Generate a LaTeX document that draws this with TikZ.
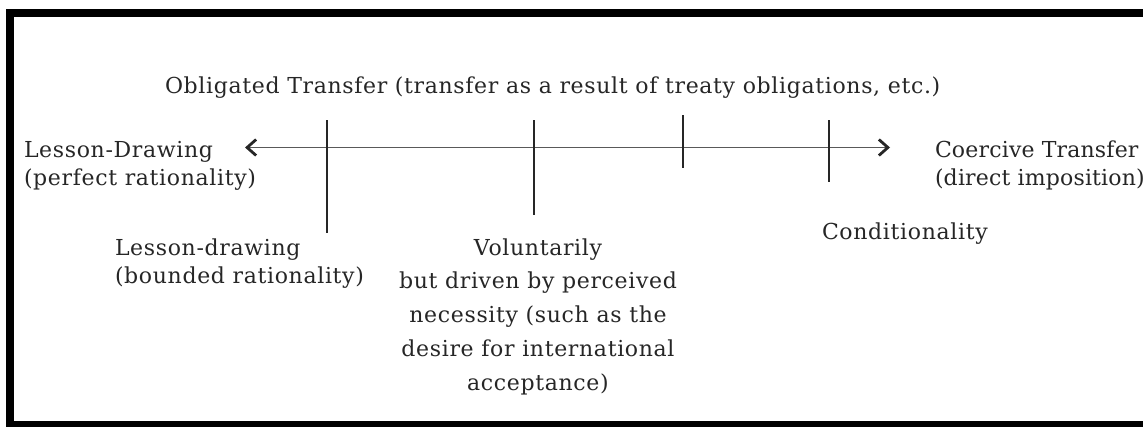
\documentclass[tikz,border=0pt]{standalone}
\usepackage{fontspec}
\setmainfont[LetterSpace=3]{DejaVu Serif}
\newfontfamily\tightserif[LetterSpace=0.8]{DejaVu Serif}
\usetikzlibrary{arrows.meta}
\begin{document}
\begin{tikzpicture}[x=1pt,y=-1pt,
  label/.style={inner sep=0pt, outer sep=0pt, text=black!85,
    font=\fontsize{22}{28}\selectfont},
  axis/.style={draw=black!65, line width=1.8pt,
    {Straight Barb[length=9pt,width=16pt,line width=2.8pt,color=black!85]}-{Straight Barb[length=9pt,width=16pt,line width=2.8pt,color=black!85]}},
  tick/.style={draw=black!85, line width=2pt}]
  \useasboundingbox (0,0) rectangle (1143,426);
  \clip (0,0) rectangle (1143,426);
  % frame
  \draw[line width=8pt] (10,13) rectangle (1160,425);

  % axis end points and tick marks
  \coordinate (axL) at (245,147.5);
  \coordinate (axR) at (890,147.5);
  \draw[axis] (axL) -- (axR);
  \coordinate (t1a) at (327,120); \coordinate (t1b) at (327,233);
  \coordinate (t2a) at (534,120); \coordinate (t2b) at (534,215);
  \coordinate (t3a) at (683,115); \coordinate (t3b) at (683,168);
  \coordinate (t4a) at (829,120); \coordinate (t4b) at (829,182);
  \draw[tick] (t1a) -- (t1b);
  \draw[tick] (t2a) -- (t2b);
  \draw[tick] (t3a) -- (t3b);
  \draw[tick] (t4a) -- (t4b);

  % labels (base anchor of a multi-line node = baseline of its last line)
  \node[label, anchor=base west] (obl) at (165,93)
    {Obligated Transfer (transfer as a result of treaty obligations, etc.)};
  \node[label, anchor=base west, align=left] (lpr) at (24,185)
    {Lesson-Drawing\\(perfect rationality)};
  \node[label, anchor=base west, align=left,
    font=\fontsize{22}{28}\tightserif] (ctr) at (935,185)
    {Coercive Transfer\\(direct imposition)};
  \node[label, anchor=base west, align=left] (lbr) at (115,283)
    {Lesson-drawing\\(bounded rationality)};
  \node[label, anchor=base west] (cnd) at (822,239) {Conditionality};
  \node[label, anchor=base, align=center,
    font=\fontsize{22}{33.75}\selectfont] (vol) at (538,390)
    {Voluntarily\\but driven by perceived\\necessity (such as the\\desire for international\\acceptance)};
\end{tikzpicture}
\end{document}
